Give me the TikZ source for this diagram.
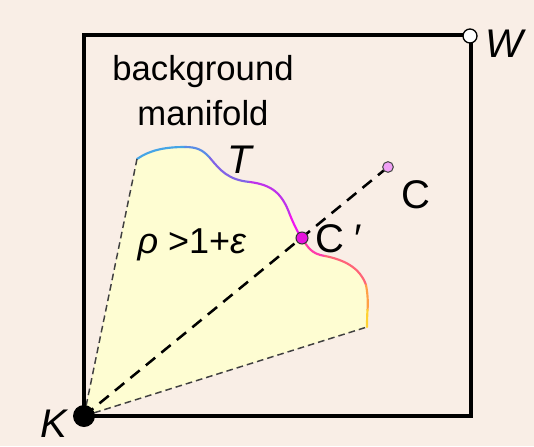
\documentclass[tikz,border=0pt]{standalone}
\usepackage{fontspec}
\setmainfont{Liberation Sans}
\begin{document}
\begin{tikzpicture}[x=0.75pt,y=-0.75pt,
  lbl/.style={font=\fontsize{30pt}{34pt}\selectfont\itshape, inner sep=0pt, anchor=base},
  thindash/.style={draw=black!75, line width=1.1pt, dash pattern=on 5pt off 3pt},
  thickdash/.style={draw=black, line width=1.9pt, dash pattern=on 9pt off 6pt},
  tcurve/.style={line width=1.6pt, line cap=round}]
\definecolor{bg}{HTML}{F9EEE6}
\definecolor{yel}{HTML}{FEFDD2}
\fill[bg] (0,0) rectangle (534,446);
\useasboundingbox (0,0) rectangle (534,446);
% coordinates
\coordinate (K) at (84,416);
\coordinate (P0) at (137,159);
\coordinate (Cp) at (302,238);
\coordinate (P12) at (367,327);
\coordinate (Cc) at (388,167);
\coordinate (W) at (470,36);
% yellow region
\fill[yel] (K) -- (P0) .. controls (150,150) and (165,147) .. (185,147)
  .. controls (197,147) and (203,150) .. (210,158)
  .. controls (220,170) and (228,180) .. (250,182)
  .. controls (272,185) and (282,193) .. (290,215)
  .. controls (295,227) and (298,233) .. (Cp)
  .. controls (308,248) and (312,254) .. (325,256)
  .. controls (345,260) and (360,268) .. (366,285)
  .. controls (369,300) and (367,315) .. (P12) -- cycle;
% T curve in colored pieces
\draw[tcurve, color={rgb,255:red,70;green,165;blue,230}] (P0) .. controls (150,150) and (165,147) .. (185,147);
\draw[tcurve, color={rgb,255:red,90;green,140;blue,230}] (185,147) .. controls (197,147) and (203,150) .. (210,158);
\draw[tcurve, color={rgb,255:red,130;green,100;blue,230}] (210,158) .. controls (220,170) and (228,180) .. (250,182);
\draw[tcurve, color={rgb,255:red,190;green,50;blue,235}] (250,182) .. controls (272,185) and (282,193) .. (290,215);
\draw[tcurve, color={rgb,255:red,240;green,20;blue,240}] (290,215) .. controls (295,227) and (298,233) .. (Cp);
\draw[tcurve, color={rgb,255:red,255;green,60;blue,170}] (Cp) .. controls (308,248) and (312,254) .. (325,256);
\draw[tcurve, color={rgb,255:red,255;green,100;blue,120}] (325,256) .. controls (345,260) and (360,268) .. (366,285);
\draw[tcurve, color={rgb,255:red,255;green,160;blue,70}] (366,285) .. controls (368,295) and (368,305) .. (367.5,310);
\draw[tcurve, color={rgb,255:red,255;green,210;blue,50}] (367.5,310) .. controls (367,318) and (367,323) .. (P12);
% dashed lines
\draw[thindash] (K) -- (P0);
\draw[thindash] (K) -- (P12);
\draw[thickdash] (K) -- (Cc);
% square
\draw[line width=3pt] (84,35) rectangle (471,416);
% points
\node[circle, fill=black, inner sep=0pt, minimum size=16.5pt] (Kdot) at (K) {};
\node[circle, fill=white, draw=black, line width=1pt, inner sep=0pt, minimum size=10.5pt] (Wdot) at (W) {};
\node[circle, fill={rgb,255:red,240;green,160;blue,245}, draw=black!70, line width=0.8pt, inner sep=0pt, minimum size=8pt] (Cdot) at (Cc) {};
\node[circle, fill={rgb,255:red,230;green,20;blue,220}, draw=black!80, line width=0.8pt, inner sep=0pt, minimum size=9pt] (Cpdot) at (Cp) {};
% labels
\node[lbl] (Klbl) at (54,437) {K};
\node[lbl] (Wlbl) at (504,57) {W};
\node[lbl] (Tlbl) at (240,173) {T};
\node[lbl, font=\fontsize{30pt}{34pt}\selectfont] (Clbl) at (416,208) {C};
\node[lbl, font=\fontsize{30pt}{34pt}\selectfont] (Cplbl) at (339,252) {C\hspace{0.25em}′};
\node[lbl, font=\fontsize{27pt}{30pt}\selectfont] (rho) at (192,253) {\textit{ρ} >1+\textit{ε}};
\node[font=\fontsize{26pt}{33.75pt}\selectfont, align=center, inner sep=0pt, anchor=base] (bm) at (203,125) {background\\manifold};
\end{tikzpicture}
\end{document}
